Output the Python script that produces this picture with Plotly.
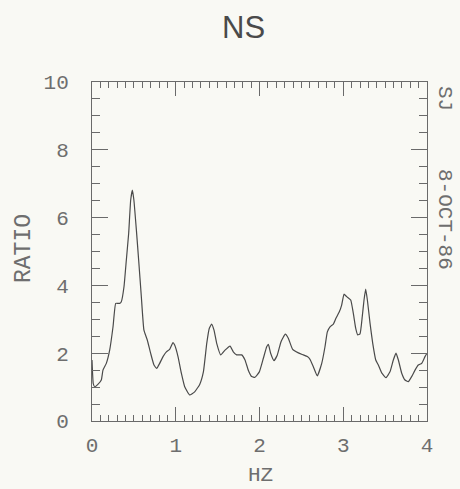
import plotly.graph_objects as go

hz = [0.0, 0.006, 0.015, 0.032, 0.07, 0.111, 0.131, 0.171, 0.211, 0.251, 0.283, 0.31, 0.33, 0.35,
      0.382, 0.41, 0.438, 0.462, 0.482, 0.50, 0.53, 0.557, 0.589, 0.62, 0.66, 0.70, 0.74, 0.772,
      0.808, 0.848, 0.888, 0.927, 0.967, 0.987, 1.027, 1.067, 1.107, 1.166, 1.226, 1.286, 1.33,
      1.37, 1.40, 1.429, 1.457, 1.489, 1.537, 1.588, 1.648, 1.687, 1.727, 1.787, 1.827, 1.866,
      1.907, 1.946, 1.998, 2.046, 2.086, 2.106, 2.133, 2.173, 2.213, 2.257, 2.308, 2.344, 2.396,
      2.464, 2.523, 2.571, 2.603, 2.643, 2.69, 2.743, 2.782, 2.81, 2.842, 2.882, 2.913, 2.953,
      2.981, 3.009, 3.041, 3.089, 3.12, 3.149, 3.172, 3.2, 3.227, 3.248, 3.268, 3.288, 3.32,
      3.352, 3.388, 3.419, 3.459, 3.51, 3.558, 3.598, 3.63, 3.658, 3.698, 3.737, 3.777, 3.817,
      3.857, 3.896, 3.937, 3.976, 4.0]
ratio = [1.8, 1.45, 1.1, 1.01, 1.08, 1.21, 1.50, 1.70, 2.09, 2.78, 3.47, 3.47, 3.47, 3.52,
         3.96, 4.75, 5.54, 6.52, 6.81, 6.52, 5.63, 4.75, 3.67, 2.68, 2.39, 2.0, 1.65, 1.55,
         1.70, 1.90, 2.04, 2.11, 2.31, 2.24, 1.90, 1.41, 1.01, 0.77, 0.86, 1.08, 1.45,
         2.29, 2.73, 2.86, 2.68, 2.29, 1.95, 2.09, 2.21, 2.04, 1.95, 1.95, 1.80, 1.50,
         1.31, 1.29, 1.45, 1.85, 2.19, 2.26, 2.0, 1.78, 1.95, 2.34, 2.56, 2.44, 2.11,
         2.01, 1.95, 1.90, 1.82, 1.6, 1.33, 1.70, 2.19, 2.63, 2.78, 2.86, 3.03, 3.22,
         3.42, 3.74, 3.67, 3.57, 3.18, 2.73, 2.54, 2.57, 3.08, 3.57, 3.89, 3.57, 2.88,
         2.29, 1.80, 1.65, 1.42, 1.28, 1.45, 1.80, 2.0, 1.80, 1.41, 1.21, 1.16, 1.31,
         1.50, 1.65, 1.70, 1.90, 2.0]

x_ticks = [0, 1, 2, 3, 4]
y_ticks = [0, 2, 4, 6, 8, 10]
title_text = "NS"
x_title = "HZ"
y_title = "RATIO"
side_label_1 = "SJ"
side_label_2 = "8-OCT-86"

BG = "#f9f9f4"
INK = "#6e6e6e"
MONO = "Liberation Mono, DejaVu Sans Mono, monospace"

fig = go.Figure()
fig.add_trace(go.Scatter(x=hz, y=ratio, mode="lines",
                         line=dict(color="#4a4a4a", width=1.2, shape="spline", smoothing=0.4),
                         hoverinfo="skip", showlegend=False))

W, H = 460, 489
L, R, T, B = 92, 33, 82, 68
pw, ph = W - L - R, H - T - B

def px_to_paper_x(px):
    return (px - L) / pw

def py_to_paper_y(py):
    return (H - B - py) / ph

axis_common = dict(showgrid=False, zeroline=False, showline=True, linecolor="#6a6a6a",
                   linewidth=1, mirror="ticks", ticks="inside", tickcolor="#6a6a6a",
                   tickwidth=1, tickfont=dict(family=MONO, size=21, color=INK))

fig.update_xaxes(range=[0, 4], tickvals=x_ticks, ticklen=14, ticklabelstandoff=5,
                 minor=dict(dtick=0.1, ticklen=6, ticks="inside", tickcolor="#6a6a6a", tickwidth=1),
                 **axis_common)
fig.update_yaxes(range=[0, 10], tickvals=y_ticks, ticklen=16, ticklabelstandoff=18,
                 minor=dict(dtick=0.5, ticklen=8, ticks="inside", tickcolor="#6a6a6a", tickwidth=1),
                 **axis_common)

annotations = [
    dict(text=title_text, x=px_to_paper_x(243), y=py_to_paper_y(27), xref="paper", yref="paper",
         showarrow=False, xanchor="center", yanchor="middle",
         font=dict(family="Liberation Sans, Arial, sans-serif", size=31, color="#4a4a4a")),
    dict(text=x_title, x=px_to_paper_x(260), y=py_to_paper_y(475), xref="paper", yref="paper",
         showarrow=False, xanchor="center", yanchor="middle",
         font=dict(family=MONO, size=21, color=INK)),
    dict(text=y_title, x=px_to_paper_x(24), y=py_to_paper_y(249), xref="paper", yref="paper",
         showarrow=False, xanchor="center", yanchor="middle", textangle=-90,
         font=dict(family=MONO, size=23, color=INK)),
    dict(text=side_label_1, x=px_to_paper_x(445), y=py_to_paper_y(98), xref="paper", yref="paper",
         showarrow=False, xanchor="center", yanchor="middle", textangle=90,
         font=dict(family=MONO, size=21, color=INK)),
    dict(text=side_label_2, x=px_to_paper_x(445), y=py_to_paper_y(219), xref="paper", yref="paper",
         showarrow=False, xanchor="center", yanchor="middle", textangle=90,
         font=dict(family=MONO, size=21, color=INK)),
]

fig.update_layout(width=W, height=H, margin=dict(l=L, r=R, t=T, b=B, pad=0),
                  paper_bgcolor=BG, plot_bgcolor=BG, annotations=annotations,
                  showlegend=False)

fig.write_html("out.html", config={"displayModeBar": False},
               post_script="document.body.style.margin='0';document.body.style.overflow='hidden';"
                           "document.body.style.background='" + BG + "';")
